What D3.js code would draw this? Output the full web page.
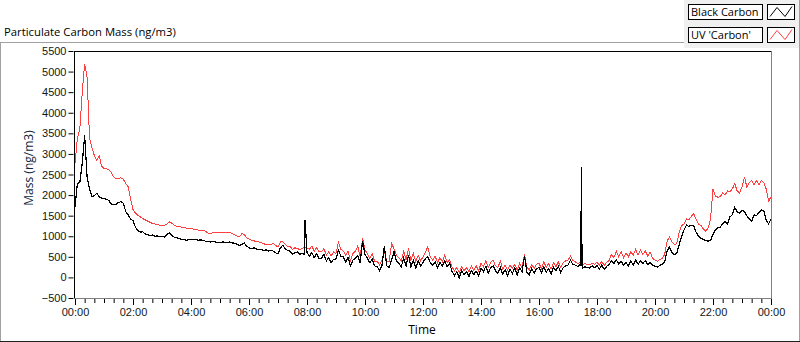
<!DOCTYPE html>
<html>
<head>
<meta charset="utf-8">
<script src="https://cdn.jsdelivr.net/npm/d3@7"></script>
<style>
  body { margin: 0; background: #fff; }
  svg { display: block; font-family: "Open Sans", "Liberation Sans", sans-serif; }
</style>
</head>
<body>
<svg id="chart" width="800" height="342"></svg>
<script>
// minutes between samples, first sample at 00:00
var sampleStep = 5;

var blackCarbon = [
  1700, 2290, 2300, 2770, 3450, 2450, 2150, 1960, 1990, 2040, 1960, 1930,
  1920, 1900, 1870, 1780, 1770, 1780, 1820, 1840, 1800, 1600, 1520, 1420,
  1380, 1220, 1140, 1100, 1110, 1060, 1040, 1020, 1030, 1000, 1010, 990,
  1000, 980, 1040, 1080, 1030, 980, 960, 950, 920, 930, 900, 920,
  930, 915, 920, 905, 910, 900, 880, 870, 860, 870, 860, 850,
  850, 860, 855, 850, 860, 840, 830, 810, 780, 800, 840, 760,
  720, 700, 720, 690, 670, 680, 650, 670, 640, 660, 640, 600,
  570, 720, 780, 700, 650, 640, 560, 600, 620, 560, 580, 560,
  600, 520, 600, 480, 580, 460, 470, 560, 400, 480, 360, 440,
  450, 660, 520, 500, 380, 480, 280, 420, 460, 520, 360, 880,
  560, 460, 360, 440, 280, 260, 170, 280, 760, 280, 240, 420,
  620, 400, 340, 260, 470, 280, 540, 260, 420, 230, 400, 280,
  360, 460, 500, 360, 300, 380, 240, 360, 280, 400, 260, 340,
  150, 40, 140, -20, 160, 60, 140, 20, 170, 70, 150, 40,
  220, 140, 270, 110, 240, 280, 160, 100, 240, 80, 190, 40,
  200, 100, 230, 60, 230, 140, 520, 130, 70, 220, 100, 210,
  240, 110, 260, 130, 220, 80, 250, 160, 270, 120, 240, 280,
  300, 420, 320, 300, 270, 290, 230, 260, 240, 230, 280, 240,
  290, 210, 300, 190, 270, 310, 410, 340, 430, 330, 390, 300,
  360, 280, 400, 300, 430, 320, 400, 340, 410, 310, 370, 290,
  270, 250, 290, 320, 380, 640, 740, 600, 560, 580, 800, 1000,
  1150, 1270, 1240, 1260, 1250, 1100, 1000, 950, 920, 900, 880, 900,
  1050, 1150, 1200, 1220, 1300, 1360, 1300, 1470, 1520, 1700, 1600, 1560,
  1640, 1600, 1500, 1420, 1360, 1520, 1500, 1580, 1640, 1620, 1400, 1300,
  1420
];

var uvCarbon = [
  2770, 3380, 3600, 4500, 5190, 4870, 3400, 3150, 2960, 2850, 2960, 2700,
  2650, 2640, 2620, 2550, 2440, 2400, 2400, 2420, 2380, 2280, 2200, 1900,
  1650, 1560, 1510, 1470, 1430, 1400, 1370, 1340, 1310, 1300, 1290, 1270,
  1270, 1270, 1300, 1350, 1320, 1270, 1240, 1240, 1220, 1210, 1200, 1190,
  1190, 1170, 1160, 1150, 1150, 1140, 1120, 1080, 1070, 1080, 1080, 1080,
  1080, 1090, 1100, 1080, 1100, 1060, 1040, 1010, 985, 1060, 1050, 960,
  930, 900, 890, 870, 860, 850, 820, 800, 790, 800, 820, 780,
  740, 860, 870, 800, 750, 760, 680, 720, 700, 680, 700, 740,
  720, 680, 760, 640, 720, 620, 620, 700, 540, 620, 520, 620,
  580, 860, 680, 640, 540, 640, 400, 580, 640, 760, 500, 950,
  660, 580, 460, 580, 380, 400, 310, 420, 640, 400, 390, 820,
  700, 540, 480, 400, 640, 430, 700, 410, 580, 380, 540, 400,
  500, 620, 740, 500, 420, 520, 360, 480, 380, 540, 360, 440,
  260, 160, 240, 110, 260, 160, 240, 130, 280, 180, 280, 160,
  340, 260, 400, 240, 360, 420, 280, 240, 400, 200, 300, 180,
  300, 220, 320, 180, 340, 240, 560, 240, 180, 320, 220, 320,
  340, 220, 380, 240, 340, 200, 360, 260, 380, 240, 360, 400,
  420, 520, 410, 380, 340, 360, 310, 330, 320, 310, 350, 320,
  370, 300, 390, 290, 370, 410, 560, 480, 640, 500, 620, 480,
  600, 500, 620, 540, 680, 540, 660, 560, 640, 520, 610, 470,
  420, 390, 440, 460, 560, 880, 980, 860, 800, 820, 1100, 1260,
  1300, 1420, 1400, 1480, 1550, 1420, 1300, 1260, 1180, 1120, 1200, 1430,
  2150, 1980, 1950, 1960, 2050, 2000, 2100, 2080, 2150, 2280, 2100, 2050,
  2200, 2440, 2200, 2300, 2360, 2250, 2350, 2250, 2360, 2300, 2150, 1850,
  1960
];

// short single-sample spikes in the black carbon trace [minute, value]
var blackSpikes = [[476, 1390], [1047, 1430], [1048, 2690], [1049, 280]];

var seriesNames = ["Black Carbon", "UV 'Carbon'"];
var seriesColors = ["#000000", "#ff4040"];

var yTicks = [-500, 0, 500, 1000, 1500, 2000, 2500, 3000, 3500, 4000, 4500, 5000, 5500];
var xMajorTicks = [0, 120, 240, 360, 480, 600, 720, 840, 960, 1080, 1200, 1320, 1440];

var svg = d3.select("#chart");

// outer panel
svg.append("rect").attr("x", 684).attr("y", 0).attr("width", 115).attr("height", 48).attr("fill", "#f0f0f0");
svg.append("line").attr("x1", 0).attr("x2", 684).attr("y1", 42.5).attr("y2", 42.5).attr("stroke", "#a0a0a0");
svg.append("line").attr("x1", 0.5).attr("x2", 0.5).attr("y1", 42).attr("y2", 342).attr("stroke", "#a0a0a0");
svg.append("line").attr("x1", 799.5).attr("x2", 799.5).attr("y1", 0).attr("y2", 342).attr("stroke", "#a0a0a0");
svg.append("line").attr("x1", 0).attr("x2", 800).attr("y1", 341.5).attr("y2", 341.5).attr("stroke", "#202020");

svg.append("text")
    .attr("x", 4).attr("y", 36)
    .attr("font-size", 11.3)
    .text("Particulate Carbon Mass (ng/m3)");

var x = d3.scaleLinear().domain([0, 1440]).range([75, 771]);
var y = d3.scaleLinear().domain([-500, 5500]).range([298, 51]);

function toPoints(values, spikes) {
  var pts = values.map((v, i) => [i * sampleStep, v]);
  if (spikes) pts = pts.concat(spikes);
  return pts.sort((a, b) => a[0] - b[0]);
}

var line = d3.line()
    .x((d) => x(d[0]))
    .y((d) => y(d[1]));

var plot = svg.append("g").attr("class", "plot");

plot.append("path")
    .datum(toPoints(uvCarbon))
    .attr("d", line)
    .attr("fill", "none")
    .attr("stroke", seriesColors[1])
    .attr("stroke-width", 1)
    .attr("shape-rendering", "crispEdges");

plot.append("path")
    .datum(toPoints(blackCarbon, blackSpikes))
    .attr("d", line)
    .attr("fill", "none")
    .attr("stroke", seriesColors[0])
    .attr("stroke-width", 1.2)
    .attr("shape-rendering", "crispEdges");

// plot frame
svg.append("line").attr("x1", 74).attr("x2", 772).attr("y1", 51.5).attr("y2", 51.5).attr("stroke", "#000");
svg.append("line").attr("x1", 74.5).attr("x2", 74.5).attr("y1", 51).attr("y2", 299).attr("stroke", "#000");
svg.append("line").attr("x1", 771.5).attr("x2", 771.5).attr("y1", 51).attr("y2", 299).attr("stroke", "#808080");
svg.append("line").attr("x1", 74).attr("x2", 772).attr("y1", 298.5).attr("y2", 298.5).attr("stroke", "#808080");

// y axis
var yAxis = d3.axisLeft(y).tickValues(yTicks).tickSize(5).tickPadding(2).tickFormat(d3.format("d"));
var gy = svg.append("g").attr("transform", "translate(73.5,0)").call(yAxis);
gy.select(".domain").remove();
gy.selectAll("text").attr("font-size", 11).attr("fill", "#101820").style("font-family", "'Liberation Sans', sans-serif");

// x axis, minor ticks every 20 minutes
var fmtTime = (m) => {
  var h = Math.floor(m / 60) % 24;
  return (h < 10 ? "0" : "") + h + ":00";
};
var xMinor = d3.range(0, 1441, 20).filter((m) => m % 120 !== 0);
var gxMinor = svg.append("g").attr("transform", "translate(0,299)")
    .call(d3.axisBottom(x).tickValues(xMinor).tickSize(4).tickFormat(""));
gxMinor.select(".domain").remove();

var gx = svg.append("g").attr("transform", "translate(0,299)")
    .call(d3.axisBottom(x).tickValues(xMajorTicks).tickSize(6).tickPadding(3).tickFormat(fmtTime));
gx.select(".domain").remove();
gx.selectAll("text").attr("font-size", 11).attr("fill", "#101820").style("font-family", "'Liberation Sans', sans-serif");

svg.append("text")
    .attr("x", 422).attr("y", 334)
    .attr("text-anchor", "middle")
    .attr("font-size", 12)
    .text("Time");

svg.append("text")
    .attr("transform", "translate(33,168) rotate(-90)")
    .attr("text-anchor", "middle")
    .attr("font-size", 12)
    .attr("fill", "#10283c")
    .text("Mass (ng/m3)");

// legend
var legend = svg.append("g").attr("class", "legend");
seriesNames.forEach((name, i) => {
  var top = 4.5 + i * 23;
  legend.append("rect")
      .attr("x", 688.5).attr("y", top).attr("width", 74).attr("height", 15)
      .attr("fill", "#fff").attr("stroke", "#000");
  legend.append("text")
      .attr("x", 691).attr("y", top + 11.5)
      .attr("font-size", 11)
      .text(name);
  legend.append("rect")
      .attr("x", 767.5).attr("y", top).attr("width", 27).attr("height", 15)
      .attr("fill", "#fff").attr("stroke", "#000");
  legend.append("path")
      .attr("d", `M770,${top + 12} L777,${top + 3} L785,${top + 12} L792,${top + 2}`)
      .attr("fill", "none")
      .attr("stroke", seriesColors[i]);
});
</script>
</body>
</html>
